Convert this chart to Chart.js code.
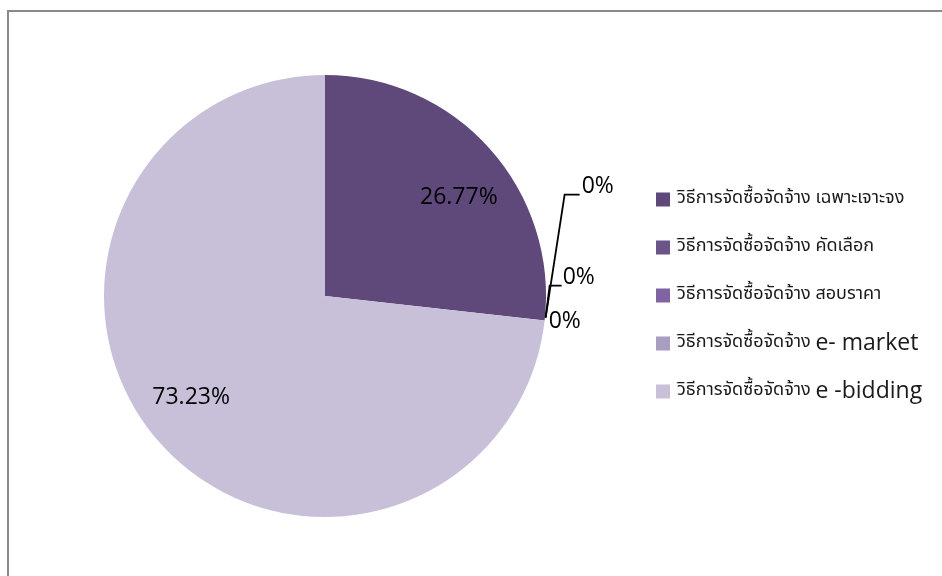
<!DOCTYPE html>
<html>
<head>
<meta charset="utf-8">
<title>วิธีการจัดซื้อจัดจ้าง</title>
<script src="https://cdn.jsdelivr.net/npm/chart.js@4.4.0/dist/chart.umd.min.js"></script>
<style>
  html, body { margin: 0; padding: 0; background: #ffffff; }
  #wrap { width: 942px; height: 576px; position: relative; }
</style>
</head>
<body>
<div id="wrap"><canvas id="pieChart" width="942" height="576"></canvas></div>
<script>
// data
const categories = [
    'วิธีการจัดซื้อจัดจ้าง เฉพาะเจาะจง',
    'วิธีการจัดซื้อจัดจ้าง คัดเลือก',
    'วิธีการจัดซื้อจัดจ้าง สอบราคา',
    'วิธีการจัดซื้อจัดจ้าง e- market',
    'วิธีการจัดซื้อจัดจ้าง e -bidding'
];
const shares = [26.77, 0, 0, 0, 73.23];
const sliceColours = ['#5F497A', '#6A5488', '#8064A2', '#A89EC0', '#C8C0D8'];

const numberFont = '23px "Open Sans", "Liberation Sans", sans-serif';
const thaiFont = '18px Tahoma, "Noto Sans Thai", "DejaVu Sans", sans-serif';
const latinFont = '23px "Open Sans", "Liberation Sans", sans-serif';

// frame of the chart box (only left and top edges show)
const framePlugin = {
    id: 'frame',
    beforeDraw(chart) {
        const ctx = chart.ctx;
        ctx.save();
        ctx.strokeStyle = '#898989';
        ctx.lineWidth = 2;
        ctx.beginPath();
        ctx.moveTo(8, chart.height);
        ctx.lineTo(8, 11);
        ctx.lineTo(chart.width, 11);
        ctx.stroke();
        ctx.restore();
    }
};

// percentage labels, zero slices get leader lines like the original
const zeroLayout = [
    { dx: 37, dy: -134, leader: [[20, -126], [35, -126]] },
    { dx: 18, dy: -43, leader: [[5, -35], [17, -35]] },
    { dx: 4, dy: 1, leader: null }
];
const labelPlugin = {
    id: 'pctLabels',
    afterDatasetsDraw(chart) {
        const ctx = chart.ctx;
        const meta = chart.getDatasetMeta(0);
        const values = chart.data.datasets[0].data;
        const total = values.reduce((a, b) => a + b, 0);
        let zeroCount = 0;
        ctx.save();
        ctx.font = numberFont;
        ctx.fillStyle = '#000000';
        ctx.textBaseline = 'middle';
        meta.data.forEach((arc, i) => {
            const p = arc.getProps(['x', 'y', 'startAngle', 'endAngle', 'outerRadius'], true);
            const pct = values[i] / total * 100;
            if (values[i] > 0) {
                const mid = (p.startAngle + p.endAngle) / 2 + 0.09;
                const r = p.outerRadius * 0.755;
                ctx.textAlign = 'center';
                ctx.fillText(pct.toFixed(2) + '%', p.x + Math.cos(mid) * r, p.y + Math.sin(mid) * r + 1.5);
            } else {
                const lay = zeroLayout[zeroCount++ % zeroLayout.length];
                const ex = p.x + Math.cos(p.startAngle) * p.outerRadius;
                const ey = p.y + Math.sin(p.startAngle) * p.outerRadius;
                if (lay.leader) {
                    ctx.strokeStyle = '#000000';
                    ctx.lineWidth = 1.8;
                    ctx.beginPath();
                    ctx.moveTo(ex + 1, ey - 3);
                    lay.leader.forEach(pt => ctx.lineTo(ex + pt[0], ey + pt[1]));
                    ctx.stroke();
                }
                ctx.textAlign = 'left';
                ctx.fillText('0%', ex + lay.dx, ey + lay.dy);
            }
        });
        ctx.restore();
    }
};

// legend drawn by hand so Thai and Latin parts can use different fonts
const legendPlugin = {
    id: 'sideLegend',
    afterDraw(chart) {
        const ctx = chart.ctx;
        const colours = chart.data.datasets[0].backgroundColor;
        const boxX = 656, boxSize = 14, textX = 677, firstY = 199.5, step = 48;
        ctx.save();
        ctx.textBaseline = 'middle';
        ctx.textAlign = 'left';
        chart.data.labels.forEach((label, i) => {
            const y = firstY + i * step;
            ctx.fillStyle = colours[i];
            ctx.fillRect(boxX, y - boxSize / 2, boxSize, boxSize);
            const cut = label.indexOf(' ');
            const head = label.slice(0, cut);
            const tail = label.slice(cut + 1);
            ctx.fillStyle = '#1a1a1a';
            ctx.font = thaiFont;
            ctx.fillText(head, textX, y);
            const headW = ctx.measureText(head + ' ').width;
            ctx.font = /[A-Za-z]/.test(tail) ? latinFont : thaiFont;
            ctx.fillText(tail, textX + headW, y);
        });
        ctx.restore();
    }
};

new Chart(document.getElementById('pieChart').getContext('2d'), {
    type: 'pie',
    data: {
        labels: categories,
        datasets: [{
            data: shares,
            backgroundColor: sliceColours,
            borderWidth: 0
        }]
    },
    options: {
        responsive: false,
        animation: false,
        devicePixelRatio: 1,
        layout: { padding: { left: 104, right: 396, top: 75, bottom: 59 } },
        plugins: {
            legend: { display: false },
            tooltip: { enabled: false }
        }
    },
    plugins: [framePlugin, labelPlugin, legendPlugin]
});
</script>
</body>
</html>
